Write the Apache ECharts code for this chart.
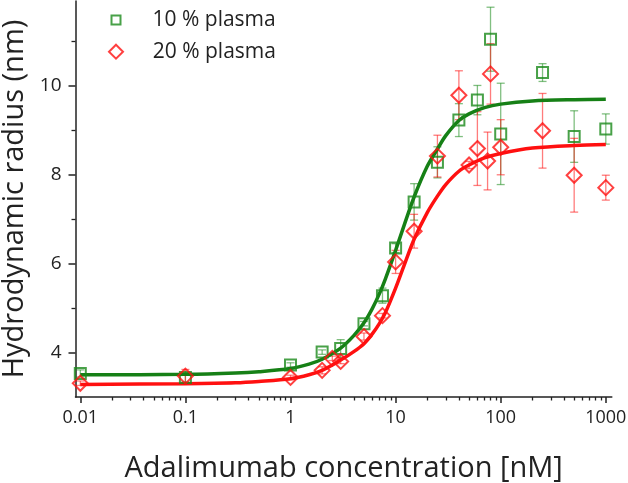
<!DOCTYPE html>
<html>
<head>
<meta charset="utf-8">
<script src="https://cdn.jsdelivr.net/npm/echarts@6/dist/echarts.min.js"></script>
<style>html,body{margin:0;padding:0;background:#fff}#c{width:628px;height:483px}</style>
</head>
<body>
<div id="c"></div>
<script>
// ---- data ----
const greenConc   = [0.01, 0.1, 1, 2, 3, 5, 7.5, 10, 15, 25, 40, 60, 80, 100, 250, 500, 1000];
const greenRadius = [3.53, 3.44, 3.72, 4.01, 4.09, 4.65, 5.28, 6.35, 7.39, 8.28, 9.23, 9.68, 11.05, 8.92, 10.30, 8.86, 9.03];
const greenErr    = [0.08, 0.10, 0.05, 0.05, 0.20, 0.05, 0.17, 0.10, 0.41, 0.35, 0.37, 0.33, 0.72, 1.14, 0.20, 0.58, 0.34];

const redConc   = [0.01, 0.1, 1, 2, 2.5, 3, 5, 7.5, 10, 15, 25, 40, 50, 60, 75, 80, 100, 250, 500, 1000];
const redRadius = [3.31, 3.47, 3.44, 3.60, 3.87, 3.80, 4.36, 4.83, 6.04, 6.73, 8.42, 9.79, 8.22, 8.59, 8.31, 10.27, 8.62, 8.99, 7.99, 7.71];
const redErr    = [0.05, 0.15, 0.05, 0.08, 0.05, 0.05, 0.08, 0.05, 0.26, 0.38, 0.47, 0.55, 0.08, 0.83, 0.65, 0.68, 0.62, 0.84, 0.83, 0.28];

const greenFitConc = [0.01, 0.1, 0.3, 0.5, 1, 1.5, 2, 3, 4, 5, 6, 7, 8, 10, 12, 15, 20, 25, 30, 40, 50, 70, 100, 200, 500, 1000];
const greenFitVal  = [3.50, 3.51, 3.54, 3.57, 3.64, 3.74, 3.85, 4.10, 4.38, 4.67, 4.99, 5.32, 5.66, 6.30, 6.85, 7.50, 8.19, 8.58, 8.88, 9.22, 9.37, 9.51, 9.59, 9.66, 9.69, 9.70];
const redFitConc = [0.01, 0.1, 0.3, 0.5, 1, 1.5, 2, 3, 4, 5, 6, 7, 8, 10, 12, 15, 20, 25, 30, 40, 50, 70, 100, 200, 500, 1000];
const redFitVal  = [3.28, 3.30, 3.32, 3.35, 3.41, 3.50, 3.60, 3.83, 4.02, 4.20, 4.42, 4.65, 4.90, 5.45, 5.95, 6.55, 7.15, 7.52, 7.78, 8.08, 8.22, 8.38, 8.48, 8.60, 8.66, 8.68];

const xTickLabels = ['0.01', '0.1', '1', '10', '100', '1000'];
const yTickLabels = [4, 6, 8, 10];
const yMinorTicks = [5, 7, 9, 11];
const seriesNames = ['10 % plasma', '20 % plasma'];

// ---- build ----
const L = v => Math.log10(v);
const xMajor = xTickLabels.map(s => L(parseFloat(s)));
const xMinor = [];
for (let k = -2; k <= 2; k++) for (let m = 2; m <= 9; m++) xMinor.push(Math.log10(m * Math.pow(10, k)));

const GREEN = '#1a8a1a', GREEN_LINE = '#168016', RED = '#ff1010';
const XMIN = -2.0457, XMAX = 3.057, YMIN = 3, YMAX = 11.91;
const FONT = 'Open Sans';

function pts(c, v) { return c.map((x, i) => [L(x), v[i]]); }
function errData(c, v, e) { return c.map((x, i) => [L(x), v[i] - e[i], v[i] + e[i]]); }
function errRender(color) {
  return function (params, api) {
    const x = api.value(0);
    const lo = api.coord([x, api.value(1)]);
    const hi = api.coord([x, api.value(2)]);
    const w = 4;
    const st = { stroke: color, lineWidth: 1.3 };
    return { type: 'group', children: [
      { type: 'line', shape: { x1: lo[0], y1: lo[1], x2: hi[0], y2: hi[1] }, style: st },
      { type: 'line', shape: { x1: lo[0] - w, y1: lo[1], x2: lo[0] + w, y2: lo[1] }, style: st },
      { type: 'line', shape: { x1: hi[0] - w, y1: hi[1], x2: hi[0] + w, y2: hi[1] }, style: st }
    ]};
  };
}

const axisColor = '#222';
const legendText = (pad) => ({ fontFamily: FONT, fontSize: 21, color: '#222', lineHeight: 22, padding: [0, 0, 0, pad] });
const option = {
  animation: false,
  backgroundColor: '#fff',
  textStyle: { fontFamily: FONT },
  grid: { left: 75.5, right: 16.2, top: 1, bottom: 86, containLabel: false, outerBoundsMode: 'none' },
  legend: [
    { data: [{ name: seriesNames[0], icon: 'rect' }], left: 105.5, top: 4, itemWidth: 9, itemHeight: 9,
      textStyle: legendText(27), selectedMode: false },
    { data: [{ name: seriesNames[1], icon: 'diamond' }], left: 103, top: 35.7, itemWidth: 14, itemHeight: 14,
      textStyle: legendText(24.7), selectedMode: false }
  ],
  xAxis: [
    { type: 'value', min: XMIN, max: XMAX, position: 'bottom',
      name: 'Adalimumab concentration [nM]', nameLocation: 'middle', nameGap: 57,
      nameTextStyle: { fontFamily: FONT, fontSize: 29, color: '#222' },
      axisLine: { onZero: false, lineStyle: { color: axisColor, width: 1.5 } },
      axisTick: { customValues: xMajor, length: 6, lineStyle: { color: axisColor, width: 1.5 } },
      axisLabel: { customValues: xMajor, margin: 12, fontSize: 18, color: '#222', fontFamily: FONT,
        formatter: v => xTickLabels[Math.round(v) + 2] },
      splitLine: { show: false } },
    { type: 'value', min: XMIN, max: XMAX, position: 'bottom',
      axisLine: { show: false, onZero: false },
      axisTick: { customValues: xMinor, length: 3.5, lineStyle: { color: axisColor, width: 1.3 } },
      axisLabel: { show: false }, splitLine: { show: false } }
  ],
  yAxis: [
    { type: 'value', min: YMIN, max: YMAX, position: 'left',
      name: 'Hydrodynamic radius (nm)', nameLocation: 'middle', nameGap: 34,
      nameTextStyle: { fontFamily: FONT, fontSize: 29, color: '#222' },
      axisLine: { show: true, onZero: false, lineStyle: { color: axisColor, width: 1.5 } },
      axisTick: { show: true, customValues: yTickLabels, length: 7, lineStyle: { color: axisColor, width: 1.5 } },
      axisLabel: { customValues: yTickLabels, margin: 14, fontSize: 19, color: '#222', fontFamily: FONT },
      splitLine: { show: false } },
    { type: 'value', min: YMIN, max: YMAX, position: 'left',
      axisLine: { show: false, onZero: false },
      axisTick: { show: true, customValues: yMinorTicks, length: 4, lineStyle: { color: axisColor, width: 1.3 } },
      axisLabel: { show: false }, splitLine: { show: false } }
  ],
  series: [
    { name: 'gErr', type: 'custom', renderItem: errRender('rgba(26,138,26,0.55)'), data: errData(greenConc, greenRadius, greenErr), z: 1, silent: true },
    { name: 'rErr', type: 'custom', renderItem: errRender('rgba(255,16,16,0.55)'), data: errData(redConc, redRadius, redErr), z: 1, silent: true },
    { name: 'gFit', type: 'line', data: pts(greenFitConc, greenFitVal), smooth: 0.3, showSymbol: false,
      lineStyle: { color: GREEN_LINE, width: 3.5 }, z: 3, silent: true },
    { name: 'rFit', type: 'line', data: pts(redFitConc, redFitVal), smooth: 0.3, showSymbol: false,
      lineStyle: { color: RED, width: 3.5 }, z: 3, silent: true },
    { name: seriesNames[0], type: 'scatter', symbol: 'rect', symbolSize: 11, data: pts(greenConc, greenRadius),
      itemStyle: { color: 'rgba(255,255,255,0)', borderColor: GREEN, borderWidth: 2 }, z: 4 },
    { name: seriesNames[1], type: 'scatter', symbol: 'diamond', symbolSize: 15, data: pts(redConc, redRadius),
      itemStyle: { color: 'rgba(255,255,255,0)', borderColor: RED, borderWidth: 2 }, z: 4 }
  ]
};
const chart = echarts.init(document.getElementById('c'), null, { renderer: 'canvas' });
chart.setOption(option);
</script>
</body>
</html>
